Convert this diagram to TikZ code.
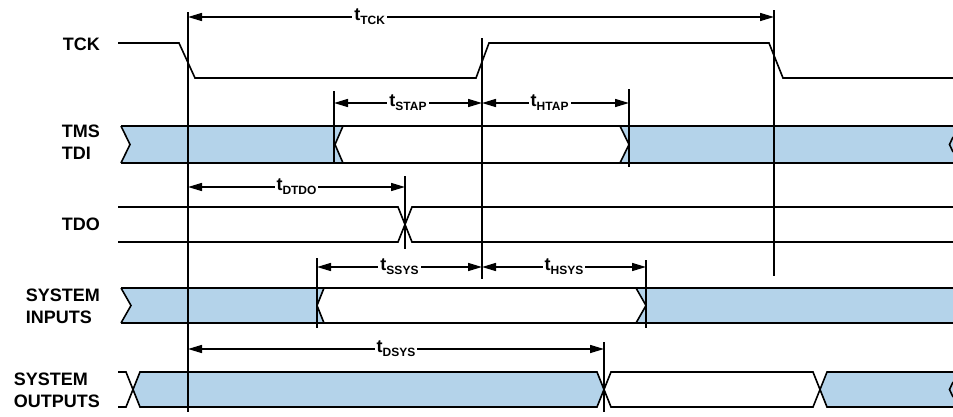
\documentclass[tikz,border=0pt]{standalone}
\usepackage{fontspec}
\setmainfont{Liberation Sans}
\usetikzlibrary{arrows.meta}
\definecolor{sigblue}{RGB}{180,211,234}
\newcommand\tlab[1]{t\raisebox{-4pt}{\fontsize{12}{12}\selectfont #1}}
\begin{document}
\begin{tikzpicture}[x=1pt,y=-1pt,
  sig/.style={line width=1.6pt,line join=miter},
  vline/.style={line width=1.6pt},
  dim/.style={line width=1.5pt,{Triangle[length=14pt,width=8pt]}-{Triangle[length=14pt,width=8pt]}},
  lab/.style={fill=white,inner sep=2pt,font=\fontsize{18}{20}\selectfont\bfseries},
  signame/.style={anchor=east,align=left,inner sep=0pt,font=\fontsize{18}{22}\selectfont\bfseries},
  bluefill/.style={fill=sigblue,draw=none}]
\useasboundingbox (0,0) rectangle (953,416);

% signal names
\node[signame] (ntck) at (100,44) {TCK};
\node[signame] (ntms) at (100,142) {TMS\\TDI};
\node[signame] (ntdo) at (100,224) {TDO};
\node[signame] (nsin) at (100,306) {SYSTEM\\INPUTS};
\node[signame] (nsout) at (100,390) {SYSTEM\\OUTPUTS};

% fills
\path[bluefill] (121,126) -- (343,126) -- (335,144.5) -- (343,163) -- (121,163) -- (130,144.5) -- cycle;
\path[bluefill] (620,126) -- (629,144.5) -- (620,163) -- (953,163) -- (953,126) -- cycle;
\path[bluefill] (121,288) -- (324,288) -- (317,305.5) -- (324,323) -- (121,323) -- (131,305.5) -- cycle;
\path[bluefill] (636,288) -- (646,305.5) -- (636,323) -- (953,323) -- (953,288) -- cycle;
\path[bluefill] (133,389.5) -- (140,372) -- (597,372) -- (604,389.5) -- (597,407) -- (140,407) -- cycle;
\path[bluefill] (820,389.5) -- (827,372) -- (953,372) -- (953,407) -- (827,407) -- cycle;

% TCK
\draw[sig] (118,43) -- (179,43) -- (195,78) -- (476,78) -- (489,43) -- (769,43) -- (783,78) -- (953,78);

% TMS / TDI
\draw[sig] (121,126) -- (953,126);
\draw[sig] (121,163) -- (953,163);
\draw[sig] (121,126) -- (130,144.5) -- (121,163);
\draw[sig] (343,126) -- (335,144.5) -- (343,163);
\draw[sig] (620,126) -- (629,144.5) -- (620,163);
\draw[sig] (953,137) -- (949.5,144.5) -- (953,152);

% TDO
\draw[sig] (118,207) -- (398,207) -- (412,242) -- (953,242);
\draw[sig] (118,242) -- (398,242) -- (412,207) -- (953,207);

% SYSTEM INPUTS
\draw[sig] (121,288) -- (953,288);
\draw[sig] (121,323) -- (953,323);
\draw[sig] (121,288) -- (131,305.5) -- (121,323);
\draw[sig] (324,288) -- (317,305.5) -- (324,323);
\draw[sig] (636,288) -- (646,305.5) -- (636,323);

% SYSTEM OUTPUTS
\draw[sig] (118,372) -- (126,372) -- (140,407) -- (597,407) -- (611,372) -- (813,372) -- (827,407) -- (953,407);
\draw[sig] (118,407) -- (126,407) -- (140,372) -- (597,372) -- (611,407) -- (813,407) -- (827,372) -- (953,372);
\draw[sig] (953,382) -- (949.5,389.5) -- (953,397);

% vertical reference lines
\coordinate (v1t) at (188,12);   \coordinate (v1b) at (188,412);
\coordinate (v2t) at (482,38);   \coordinate (v2b) at (482,279);
\coordinate (v3t) at (774,10);   \coordinate (v3b) at (774,276);
\coordinate (vst) at (334,91);   \coordinate (vsb) at (334,163);
\coordinate (vht) at (629,89);   \coordinate (vhb) at (629,167);
\coordinate (vdt) at (405,176);  \coordinate (vdb) at (405,249);
\coordinate (vsst) at (317,258); \coordinate (vssb) at (317,328);
\coordinate (vhst) at (646,260); \coordinate (vhsb) at (646,328);
\coordinate (vdst) at (604,342); \coordinate (vdsb) at (604,412);
\foreach \a/\b in {v1t/v1b,v2t/v2b,v3t/v3b,vst/vsb,vht/vhb,vdt/vdb,vsst/vssb,vhst/vhsb,vdst/vdsb}
  \draw[vline] (\a) -- (\b);

% dimension arrows
\coordinate (tcka) at (188,17);  \coordinate (tckb) at (774,17);
\coordinate (stapa) at (334,103); \coordinate (stapb) at (482,103);
\coordinate (htapa) at (482,103); \coordinate (htapb) at (629,103);
\coordinate (dtdoa) at (188,187); \coordinate (dtdob) at (405,187);
\coordinate (ssysa) at (317,267); \coordinate (ssysb) at (482,267);
\coordinate (hsysa) at (482,267); \coordinate (hsysb) at (646,267);
\coordinate (dsysa) at (188,349); \coordinate (dsysb) at (604,349);

\draw[dim] (tcka) -- node[lab,pos=0.31] (ltck) {\tlab{TCK}} (tckb);
\draw[dim] (stapa) -- node[lab,pos=0.5] (lstap) {\tlab{STAP}} (stapb);
\draw[dim] (htapa) -- node[lab,pos=0.46] (lhtap) {\tlab{HTAP}} (htapb);
\draw[dim] (dtdoa) -- node[lab,pos=0.5] (ldtdo) {\tlab{DTDO}} (dtdob);
\draw[dim] (ssysa) -- node[lab,pos=0.5] (lssys) {\tlab{SSYS}} (ssysb);
\draw[dim] (hsysa) -- node[lab,pos=0.5] (lhsys) {\tlab{HSYS}} (hsysb);
\draw[dim] (dsysa) -- node[lab,pos=0.5] (ldsys) {\tlab{DSYS}} (dsysb);
\end{tikzpicture}
\end{document}
